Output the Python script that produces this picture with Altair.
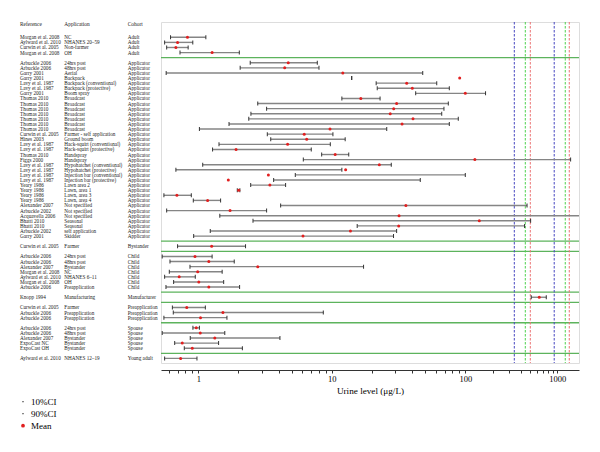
import altair as alt
import pandas as pd
import numpy as np

# ---------------- data ----------------
references = [
    "Morgan et al. 2008", "Aylward et al. 2010", "Curwin et al. 2005", "Morgan et al. 2008",
    "Arbuckle 2006", "Arbuckle 2006", "Garry 2001", "Garry 2001", "Lavy et al. 1987", "Lavy et al. 1987",
    "Garry 2001", "Thomas 2010", "Thomas 2010", "Thomas 2010", "Thomas 2010", "Thomas 2010",
    "Thomas 2010", "Thomas 2010", "Curwin et al. 2005", "Hines 2003", "Lavy et al. 1987",
    "Lavy et al. 1987", "Thomas 2010", "Figgs 2000", "Lavy et al. 1987", "Lavy et al. 1987",
    "Lavy et al. 1987", "Lavy et al. 1987", "Yeary 1986", "Yeary 1986", "Yeary 1986", "Yeary 1986",
    "Alexander 2007", "Arbuckle 2002", "Acquavella 2006", "Bhatti 2010", "Bhatti 2010",
    "Arbuckle 2002", "Garry 2001",
    "Curwin et al. 2005",
    "Arbuckle 2006", "Arbuckle 2006", "Alexander 2007", "Morgan et al. 2008", "Aylward et al. 2010",
    "Morgan et al. 2008", "Arbuckle 2006",
    "Knopp 1994",
    "Curwin et al. 2005", "Arbuckle 2006", "Arbuckle 2006",
    "Arbuckle 2006", "Arbuckle 2006", "Alexander 2007", "ExpoCast NC", "ExpoCast OH",
    "Aylward et al. 2010",
]
applications = [
    "NC", "NHANES 20\u201359", "Non-farmer", "OH",
    "24hrs post", "48hrs post", "Aerial", "Backpack", "Backpack (conventional)", "Backpack (protective)",
    "Boom spray", "Broadcast", "Broadcast", "Broadcast", "Broadcast", "Broadcast",
    "Broadcast", "Broadcast", "Farmer - self application", "Ground boom", "Hack-squirt (conventional)",
    "Hack-squirt (protective)", "Handspray", "Handspray", "Hypohatchet (conventional)", "Hypohatchet (protective)",
    "Injection bar (conventional)", "Injection bar (protective)", "Lawn area 2", "Lawn, area 1", "Lawn, area 3", "Lawn, area 4",
    "Not specified", "Not specified", "Not specified", "Seasonal", "Seasonal",
    "self application", "Skidder",
    "Farmer",
    "24hrs post", "48hrs post", "Bystander", "NC", "NHANES 6\u201311",
    "OH", "Preapplication",
    "Manufacturing",
    "Farmer", "Preapplication", "Preapplication",
    "24hrs post", "48hrs post", "Bystander", "Bystander", "Bystander",
    "NHANES 12\u201319",
]
cohorts = (["Adult"] * 4 + ["Applicator"] * 35 + ["Bystander"] + ["Child"] * 7
           + ["Manufacturer"] + ["Preapplication"] * 3 + ["Spouse"] * 5 + ["Young adult"])

ci10 = [
    0.62, 0.56, 0.58, 0.73,
    2.45, 2.06, 0.575, 14.1, 21.5, 21.9, 42.5, 11.9, 2.79, 3.25, 2.48, 2.39, 1.70, 1.02,
    3.29, 3.49, 1.43, 1.28, 8.40, 6.12, 1.08, 0.68, 5.33, 3.67, 2.47, 1.96, 0.553, 0.918,
    4.14, 0.58, 1.45, 2.57, 15.5, 1.23, 0.924,
    0.70,
    0.537, 0.614, 0.867, 0.607, 0.56, 0.654, 0.573,
    521,
    0.64, 0.65, 0.553,
    0.912, 0.537, 0.871, 0.666, 0.786,
    0.56,
]
means = [
    0.83, 0.70, 0.68, 1.27,
    4.72, 4.44, 12.1, 90.8, 36.4, 40.1, 100, 16.5, 30.6, 29.1, 27.4, 40.6, 33.6, 9.7,
    6.22, 6.49, 4.67, 1.92, 10.6, 127, 22.7, 12.7, 3.35, 1.68, 3.44, 2.01, 0.692, 1.175,
    35.9, 1.73, 31.9, 142, 31.7, 13.8, 6.09,
    1.26,
    0.945, 1.20, 2.79, 0.99, 0.72, 1.01, 1.20,
    637,
    0.82, 1.53, 1.04,
    0.966, 1.035, 1.33, 0.759, 0.902,
    0.738,
]
ci90 = [
    1.14, 0.91, 0.84, 2.03,
    7.79, 8.02, 48.0, 14.1, 61.1, 75.9, 166, 23.0, 74.6, 69.2, 66.6, 88.6, 75.9, 25.8,
    10.2, 12.6, 9.75, 7.02, 13.4, 1396, 27.9, 11.9, 100, 46.0, 4.51, 2.05, 0.887, 1.47,
    469, 3.25, 2500, 513, 441, 30.6, 29.0,
    2.26,
    1.27, 1.86, 17.3, 1.51, 0.95, 1.55, 2.04,
    759,
    1.13, 8.64, 1.64,
    1.02, 1.58, 4.09, 1.42, 2.14,
    0.978,
]

ref_line_values = [341, 449, 509, 926, 1221, 1350]
ref_line_sets = ["a", "b", "c", "a", "b", "c"]

tick_values = [0.6, 0.7, 0.8, 0.9, 1, 2, 3, 4, 5, 6, 7, 8, 9, 10, 20, 30, 40, 50, 60, 70, 80, 90,
               100, 200, 300, 400, 500, 600, 700, 800, 900, 1000]

header_titles = ["Reference", "Application", "Cohort"]
legend_labels = ["10%CI", "90%CI", "Mean"]

# ---------------- layout helpers ----------------
slots, seps = [], []
s, prev = 0, None
for c in cohorts:
    if prev is not None and c != prev:
        seps.append(s)
        s += 1
    slots.append(s)
    s += 1
    prev = c

df = pd.DataFrame({
    "reference": references, "application": applications, "cohort": cohorts,
    "slot": slots,
    "lo": np.log10(ci10), "mean": np.log10(means), "hi": np.log10(ci90),
})
sep_df = pd.DataFrame({"slot": seps})
vl_df = pd.DataFrame({"v": np.log10(ref_line_values), "set": ref_line_sets})

W, H = 418, 341
FONT = "Liberation Serif"

xscale = alt.Scale(domain=[float(np.log10(0.526)), 2.0, float(np.log10(1722))],
                   range=[0, 304.3, W], nice=False, zero=False)
yscale = alt.Scale(domain=[-3, 63.9], reverse=True, nice=False, zero=False)

xaxis = alt.Axis(
    values=[float(v) for v in np.log10(tick_values)],
    labelExpr="abs(datum.value - round(datum.value)) < 0.000001 ? format(pow(10, round(datum.value)), 'd') : ''",
    title="Urine level (\u03bcg/L)", grid=False, offset=7, tickSize=3,
    labelOverlap=False, labelFlush=False, labelFont=FONT, labelFontSize=8.5,
    titleFont=FONT, titleFontSize=9.2, titleFontWeight="normal", labelColor="black",
    titleColor="black", domainColor="#333", tickColor="#333", labelPadding=1, titlePadding=4,
)

base = alt.Chart(df)

seps_layer = alt.Chart(sep_df).mark_rule(color="#5db35d", strokeWidth=1.3).encode(
    y=alt.Y("slot:Q", scale=yscale, axis=None), x=alt.value(0), x2=alt.value(W))

vlines = alt.Chart(vl_df).mark_rule(strokeDash=[2.5, 1.5], strokeWidth=1).encode(
    x=alt.X("v:Q", scale=xscale, axis=xaxis),
    y=alt.value(0), y2=alt.value(H),
    color=alt.Color("set:N", scale=alt.Scale(domain=["a", "b", "c"],
                                              range=["#4646c0", "#4ed24e", "#ec7272"]), legend=None))

bars = base.mark_rule(color="#858585", strokeWidth=1.4, clip=True).encode(
    x=alt.X("lo:Q", scale=xscale, axis=xaxis), x2="hi:Q", y=alt.Y("slot:Q", scale=yscale, axis=None))

caps = base.transform_fold(["lo", "hi"], as_=["end", "val"]).mark_tick(
    orient="vertical", size=4, thickness=1, color="#333", opacity=1, clip=True).encode(
    x=alt.X("val:Q", scale=xscale, axis=xaxis), y=alt.Y("slot:Q", scale=yscale, axis=None))

dots = base.mark_point(filled=True, shape="circle", size=9, color="#e11f1f", opacity=1, clip=True).encode(
    x=alt.X("mean:Q", scale=xscale, axis=xaxis), y=alt.Y("slot:Q", scale=yscale, axis=None))

col_x = [-141, -96.7, -33.3]
text_layers = []
for field, xpx in zip(["reference", "application", "cohort"], col_x):
    text_layers.append(base.mark_text(align="left", baseline="middle", font=FONT, fontSize=5.2,
                                      color="#222").encode(
        x=alt.value(xpx), y=alt.Y("slot:Q", scale=yscale, axis=None), text=f"{field}:N"))

header_layers = []
for title, xpx in zip(header_titles, col_x):
    header_layers.append(alt.Chart(pd.DataFrame({"t": [title]})).mark_text(
        align="left", baseline="middle", font=FONT, fontSize=5.4, color="#222").encode(
        x=alt.value(xpx), y=alt.value(1.5), text="t:N"))

legend_layers = []
for i, lab in enumerate(legend_labels):
    ypx = 379.7 + i * 12
    ldf = pd.DataFrame({"t": [lab]})
    if lab == "Mean":
        sym = alt.Chart(ldf).mark_point(filled=True, shape="circle", size=14, color="#e11f1f", opacity=1)
    else:
        sym = alt.Chart(ldf).mark_point(filled=True, shape="circle", size=1.5, color="black", opacity=1)
    legend_layers.append(sym.encode(x=alt.value(-138), y=alt.value(ypx)))
    legend_layers.append(alt.Chart(ldf).mark_text(align="left", baseline="middle", font=FONT,
                                                  fontSize=9, color="black").encode(
        x=alt.value(-130), y=alt.value(ypx), text="t:N"))

chart = alt.layer(
    seps_layer, vlines, bars, caps, dots, *text_layers, *header_layers, *legend_layers
).properties(
    width=W, height=H,
    autosize=alt.AutoSizeParams(type="none"),
    padding={"left": 153, "top": 14, "right": 13, "bottom": 80},
).configure_view(stroke="#444", strokeWidth=1).configure(background="white")

chart.save("out.html", embed_options={"renderer": "svg", "actions": False})
